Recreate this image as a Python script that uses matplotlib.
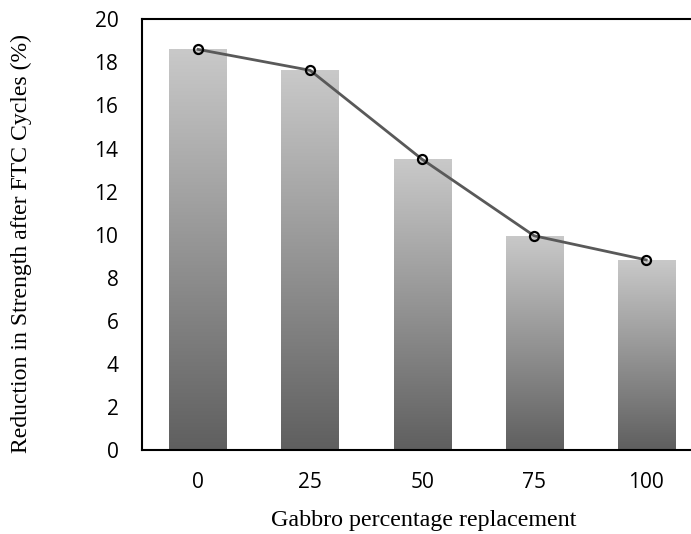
import numpy as np
import matplotlib
matplotlib.use('Agg')
import matplotlib.pyplot as plt
from matplotlib.colors import LinearSegmentedColormap

# Данные
categories = ['0', '25', '50', '75', '100']
reduction = [18.6, 17.63, 13.5, 9.95, 8.83]

fig = plt.figure(figsize=(6.91, 5.34), dpi=100)
ax = fig.add_axes([0.2055, 0.157, 0.7945, 0.807])

x = np.arange(len(categories))
width = 0.51

# градиент светлый сверху, тёмный снизу
cmap = LinearSegmentedColormap.from_list('g', ['#5f5f5f', '#c9c9c9'])
grad = np.linspace(0, 1, 256).reshape(-1, 1)

bars = ax.bar(x, reduction, width=width, color='none', edgecolor='none')
for b in bars:
    x0, y0 = b.get_x(), b.get_y()
    w, h = b.get_width(), b.get_height()
    im = ax.imshow(grad, cmap=cmap, aspect='auto', origin='lower',
                   extent=[x0, x0 + w, y0, y0 + h], zorder=1)
    im.set_clip_path(b)

ax.plot(x, reduction, color='#595959', lw=2, zorder=3)
ax.plot(x, reduction, 'o', ms=6.5, mfc='none', mec='black', mew=1.6, zorder=4)

ax.set_xlim(-0.5, 4.4)
ax.set_ylim(0, 20)
ax.set_yticks(range(0, 21, 2))
ax.set_xticks(x)
ax.set_xticklabels(categories)
ax.tick_params(length=0, labelsize=15)
ax.tick_params(axis='y', pad=17)
ax.tick_params(axis='x', pad=16)
for lab in ax.get_xticklabels() + ax.get_yticklabels():
    lab.set_family('Open Sans')

for s in ['left', 'top', 'bottom']:
    ax.spines[s].set_linewidth(1.5)
    ax.spines[s].set_color('black')
ax.spines['right'].set_visible(False)

ax.set_xlabel('Gabbro percentage replacement', family='Liberation Serif',
              fontsize=17.3, va='center')
ax.set_ylabel('Reduction in Strength after FTC Cycles (%)', family='Liberation Serif',
              fontsize=17.1, va='center')
ax.xaxis.set_label_coords(0.514, -0.163)
ax.yaxis.set_label_coords(-0.22, 0.48)

fig.savefig('out.png', dpi=100)
